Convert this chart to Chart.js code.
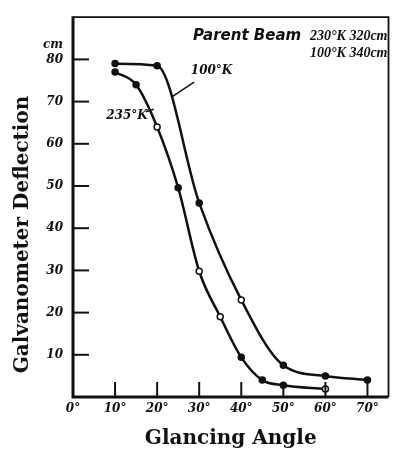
<!DOCTYPE html>
<html>
<head>
<meta charset="utf-8">
<script src="https://cdn.jsdelivr.net/npm/chart.js@4"></script>
<style>
  html, body { margin: 0; padding: 0; background: #fff; }
  #wrap { width: 394px; height: 449px; }
</style>
</head>
<body>
<div id="wrap"><canvas id="galvChart"></canvas></div>
<script>
// Glancing angle (deg) and galvanometer deflection (cm)
const angles100 = [10, 20, 30, 40, 50, 60, 70];
const deflection100 = [79, 78.5, 46, 23, 7.5, 5, 4];
const open100 = [40];

const angles235 = [10, 15, 20, 25, 30, 35, 40, 45, 50, 60];
const deflection235 = [77, 74, 64, 49.6, 29.8, 19, 9.4, 4, 2.8, 1.9];
const open235 = [20, 30, 35, 60];

const xTicks = [0, 10, 20, 30, 40, 50, 60, 70];
const yTicks = [10, 20, 30, 40, 50, 60, 70, 80];

const ink = "#111";
const tickFont = { family: "DejaVu Serif", size: 12, style: "italic", weight: "bold" };
const titleFont = { family: "DejaVu Serif", size: 20, weight: "bold" };

function toPoints(xs, ys) {
  return xs.map((x, i) => ({ x: x, y: ys[i] }));
}

function makeSeries(label, xs, ys, openList) {
  return {
    label: label,
    data: toPoints(xs, ys),
    borderColor: ink,
    borderWidth: 2.5,
    cubicInterpolationMode: "monotone",
    pointRadius: 3,
    pointBorderWidth: 1.5,
    pointBorderColor: ink,
    pointBackgroundColor: (c) => (openList.includes(xs[c.dataIndex]) ? "#fff" : ink),
  };
}

// draws the frame, inward ticks and the hand lettering
const decorations = {
  id: "decorations",
  afterDraw(chart) {
    const { ctx, chartArea: a, scales } = chart;
    const x = scales.x, y = scales.y;
    ctx.save();
    ctx.strokeStyle = ink;
    ctx.fillStyle = ink;

    // frame
    ctx.lineWidth = 1.8;
    ctx.beginPath();
    ctx.moveTo(a.left, a.top);
    ctx.lineTo(a.right, a.top);
    ctx.lineTo(a.right, a.bottom);
    ctx.stroke();
    ctx.lineWidth = 3;
    ctx.beginPath();
    ctx.moveTo(a.left, a.top - 1);
    ctx.lineTo(a.left, a.bottom);
    ctx.lineTo(a.right, a.bottom);
    ctx.stroke();

    // inward ticks
    ctx.lineWidth = 2;
    yTicks.forEach((v) => {
      const py = y.getPixelForValue(v);
      ctx.beginPath();
      ctx.moveTo(a.left, py);
      ctx.lineTo(a.left + 16, py);
      ctx.stroke();
    });
    xTicks.slice(1).forEach((v) => {
      const px = x.getPixelForValue(v);
      ctx.beginPath();
      ctx.moveTo(px, a.bottom);
      ctx.lineTo(px, a.bottom - 15);
      ctx.stroke();
    });

    // y axis title, sits a little below the middle of the axis
    ctx.save();
    ctx.translate(28, y.getPixelForValue(38.5));
    ctx.rotate(-Math.PI / 2);
    ctx.font = "bold 20px 'DejaVu Serif'";
    ctx.textAlign = "center";
    ctx.textBaseline = "alphabetic";
    ctx.fillText("Galvanometer Deflection", 0, 0);
    ctx.restore();

    // unit above the y ticks
    ctx.font = "italic bold 12px 'DejaVu Serif'";
    ctx.textAlign = "right";
    ctx.textBaseline = "alphabetic";
    ctx.fillText("cm", a.left - 10, y.getPixelForValue(82.6));

    // curve labels with leader lines
    ctx.font = "italic bold 12px 'DejaVu Serif'";
    ctx.textAlign = "left";
    ctx.fillText("100°K", x.getPixelForValue(28), y.getPixelForValue(76.6));
    ctx.fillText("235°K", x.getPixelForValue(7.9), y.getPixelForValue(65.8));
    ctx.lineWidth = 1.5;
    ctx.beginPath();
    ctx.moveTo(x.getPixelForValue(28.8), y.getPixelForValue(74.6));
    ctx.lineTo(x.getPixelForValue(23.6), y.getPixelForValue(71.2));
    ctx.moveTo(x.getPixelForValue(17.3), y.getPixelForValue(67.6));
    ctx.lineTo(x.getPixelForValue(19.2), y.getPixelForValue(68.2));
    ctx.stroke();

    // parent beam note
    ctx.font = "italic bold 15px 'DejaVu Sans'";
    ctx.textAlign = "left";
    ctx.fillText("Parent Beam", a.left + 120, a.top + 23);
    ctx.font = "italic bold 14px 'Liberation Serif'";
    ctx.textAlign = "right";
    ctx.fillText("230°K 320cm", a.right - 1, a.top + 23);
    ctx.fillText("100°K 340cm", a.right - 1, a.top + 40);
    ctx.restore();
  },
};

const chart = new Chart(document.getElementById("galvChart"), {
  type: "line",
  data: {
    datasets: [
      makeSeries("100°K", angles100, deflection100, open100),
      makeSeries("235°K", angles235, deflection235, open235),
    ],
  },
  options: {
    responsive: true,
    maintainAspectRatio: false,
    animation: false,
    layout: { padding: { top: 10, right: 4, left: 0, bottom: 0 } },
    plugins: { legend: { display: false }, tooltip: { enabled: false } },
    scales: {
      x: {
        type: "linear",
        min: 0,
        max: 75,
        afterBuildTicks: (s) => { s.ticks = xTicks.map((v) => ({ value: v })); },
        afterFit: (s) => { s.height = 52; },
        grid: { display: false, drawTicks: false },
        border: { display: false },
        ticks: {
          color: ink,
          font: tickFont,
          padding: 5,
          maxRotation: 0,
          callback: (v) => v + "°",
        },
        title: {
          display: true,
          text: "Glancing Angle",
          color: ink,
          font: titleFont,
          padding: { top: 4, bottom: -2 },
        },
      },
      y: {
        min: 0,
        max: 90,
        afterBuildTicks: (s) => { s.ticks = yTicks.map((v) => ({ value: v })); },
        afterFit: (s) => { s.width = 73; },
        grid: { display: false, drawTicks: false },
        border: { display: false },
        ticks: {
          color: ink,
          font: tickFont,
          padding: 10,
        },
      },
    },
  },
  plugins: [decorations],
});
</script>
</body>
</html>
